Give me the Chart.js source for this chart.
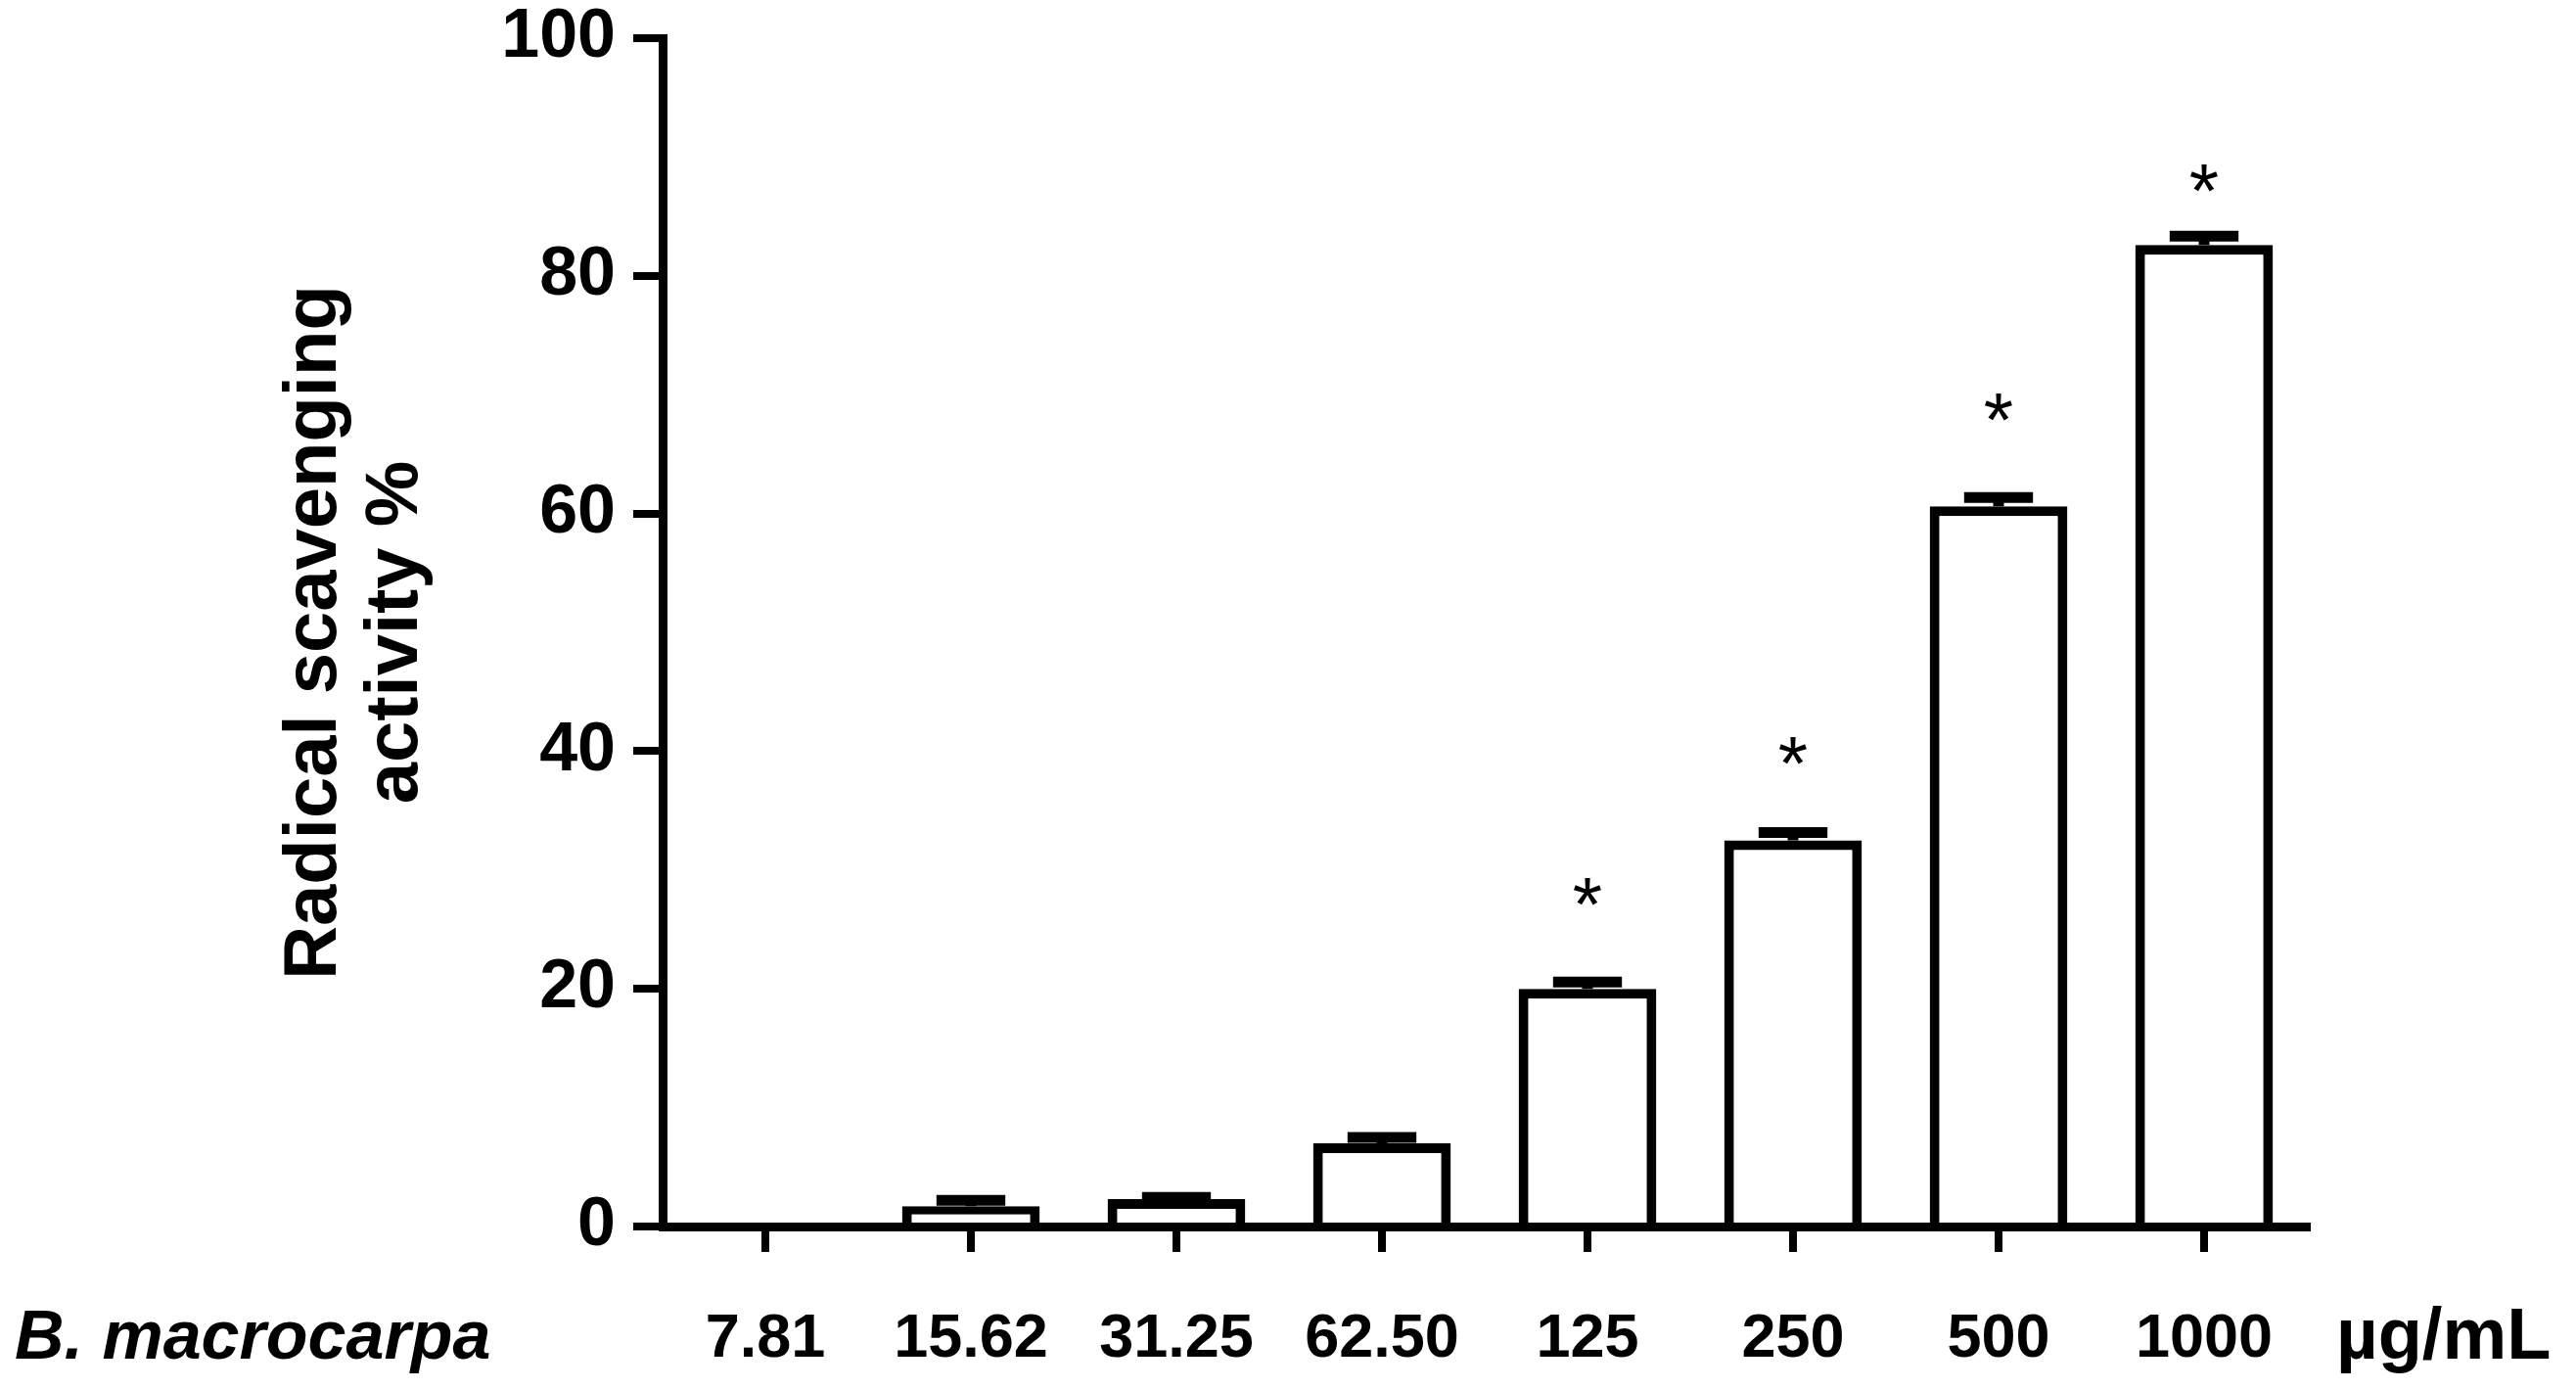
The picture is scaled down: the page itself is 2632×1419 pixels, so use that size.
<!DOCTYPE html>
<html>
<head>
<meta charset="utf-8">
<script src="https://cdn.jsdelivr.net/npm/chart.js@4.4.1/dist/chart.umd.min.js"></script>
<style>
  html, body { margin:0; padding:0; background:#fff; }
  #wrap { width:2632px; height:1419px; }
</style>
</head>
<body>
<div id="wrap"><canvas id="chart" width="2632" height="1419"></canvas></div>
<script>
// concentrations of B. macrocarpa extract (µg/mL)
const concentrations = ['7.81', '15.62', '31.25', '62.50', '125', '250', '500', '1000'];
// mean radical scavenging activity (%)
const scavenging = [0, 1.7, 2.3, 7.0, 20.0, 32.5, 60.6, 82.6];
// error (upper half drawn only, GraphPad style)
const scavengingErr = [0, 0.5, 0.15, 0.5, 0.58, 0.66, 0.74, 0.74];
// where the significance star sits, null = no star
const starLevel = [null, null, null, null, 28.1, 40.0, 68.9, 88.2];
const yTicks = [0, 20, 40, 60, 80, 100];

const FONT = '"Liberation Sans", Arial, Helvetica, sans-serif';

// error bars on top of each bar
const errorBars = {
  id: 'errorBars',
  afterDatasetsDraw(chart) {
    const { ctx, scales: { y } } = chart;
    const meta = chart.getDatasetMeta(0);
    ctx.save();
    ctx.strokeStyle = '#000';
    ctx.lineWidth = 11;
    meta.data.forEach((bar, i) => {
      const err = scavengingErr[i];
      if (!err) return;
      const yVal = y.getPixelForValue(scavenging[i]);
      const yTop = y.getPixelForValue(scavenging[i] + err);
      const half = bar.width * 0.25;
      ctx.beginPath();
      ctx.moveTo(bar.x, yVal); ctx.lineTo(bar.x, yTop);
      ctx.moveTo(bar.x - half, yTop); ctx.lineTo(bar.x + half, yTop);
      ctx.stroke();
    });
    ctx.restore();
  }
};

// stars + the extra labels under the x axis
const annotations = {
  id: 'annotations',
  afterDraw(chart) {
    const { ctx, scales: { x, y } } = chart;
    ctx.save();
    ctx.fillStyle = '#000';
    ctx.font = `78px ${FONT}`;
    ctx.textAlign = 'center';
    ctx.textBaseline = 'middle';
    starLevel.forEach((v, i) => {
      if (v == null) return;
      ctx.fillText('*', x.getPixelForValue(i), y.getPixelForValue(v) + 18);
    });

    ctx.textAlign = 'left';
    ctx.textBaseline = 'alphabetic';
    ctx.font = `italic bold 70px ${FONT}`;
    ctx.fillText('B. macrocarpa', 15, 1388);
    ctx.font = `bold 74px ${FONT}`;
    ctx.fillText('\u00B5g/mL', 2387, 1388);
    ctx.restore();
  }
};

new Chart(document.getElementById('chart'), {
  type: 'bar',
  data: {
    labels: concentrations,
    datasets: [{
      data: scavenging,
      backgroundColor: '#fff',
      borderColor: '#000',
      borderWidth: 10,
      borderSkipped: 'start',
      barPercentage: 0.67,
      categoryPercentage: 1
    }]
  },
  options: {
    responsive: false,
    animation: false,
    devicePixelRatio: 1,
    layout: { padding: { top: 39, right: 275, left: 0, bottom: 0 } },
    plugins: { legend: { display: false }, tooltip: { enabled: false } },
    scales: {
      x: {
        afterFit: s => { s.height = 166; s.paddingLeft = 0; s.paddingRight = 0; },
        border: { color: '#000', width: 9 },
        grid: { offset: false, drawOnChartArea: false, color: '#000', lineWidth: 8, tickLength: 26 },
        ticks: {
          color: '#000', autoSkip: false, maxRotation: 0, padding: 58,
          font: { family: FONT, size: 63, weight: 'bold', lineHeight: 1 }
        }
      },
      y: {
        min: 0, max: 100,
        afterBuildTicks: s => { s.ticks = yTicks.map(v => ({ value: v })); },
        afterFit: s => { s.width = 677; s.paddingTop = 0; s.paddingBottom = 0; },
        border: { color: '#000', width: 9 },
        grid: { drawOnChartArea: false, color: '#000', lineWidth: 8, tickLength: 30 },
        ticks: {
          color: '#000', padding: 18,
          font: { family: FONT, size: 70, weight: 'bold', lineHeight: 1 }
        },
        title: {
          display: true,
          text: ['Radical scavenging', 'activity %'],
          color: '#000',
          font: { family: FONT, size: 76, weight: 'bold', lineHeight: 1.1 },
          padding: { top: 280, bottom: 0 }
        }
      }
    }
  },
  plugins: [errorBars, annotations]
});
</script>
</body>
</html>
